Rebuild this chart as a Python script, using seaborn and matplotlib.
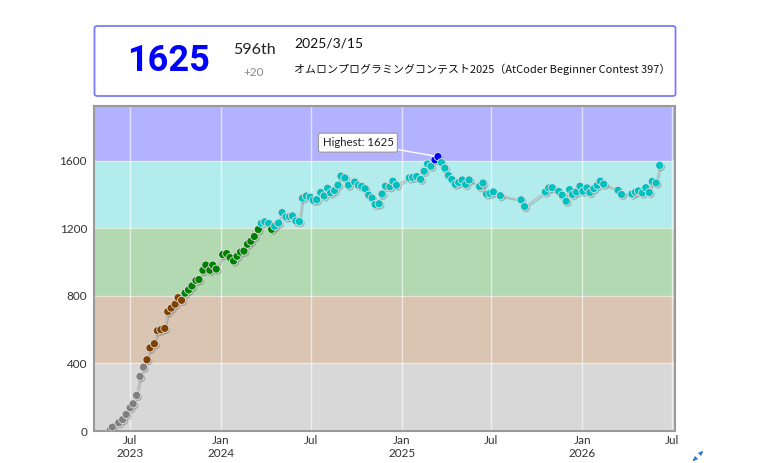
import matplotlib
matplotlib.use("Agg")
import matplotlib.pyplot as plt
import matplotlib.patheffects as pe
from matplotlib.patches import FancyBboxPatch, FancyArrowPatch
import seaborn as sns
import pandas as pd

# ---------------- data ----------------
dates = [
    "2023-05-23", "2023-05-27", "2023-06-09", "2023-06-17", "2023-06-24", "2023-07-02", "2023-07-08", "2023-07-15", "2023-07-22", "2023-07-29",
    "2023-08-05", "2023-08-11", "2023-08-20", "2023-08-26", "2023-09-02", "2023-09-10", "2023-09-16", "2023-09-23", "2023-10-01", "2023-10-07", "2023-10-14",
    "2023-10-21", "2023-10-28", "2023-11-04", "2023-11-12", "2023-11-18", "2023-11-26", "2023-12-02", "2023-12-10", "2023-12-16", "2023-12-23",
    "2024-01-05", "2024-01-13", "2024-01-20", "2024-01-27", "2024-02-03", "2024-02-10", "2024-02-17", "2024-02-24", "2024-03-02", "2024-03-09", "2024-03-17",
    "2024-03-23", "2024-03-30", "2024-04-07", "2024-04-13", "2024-04-19", "2024-04-27", "2024-05-04", "2024-05-12", "2024-05-19", "2024-05-25", "2024-06-01", "2024-06-08",
    "2024-06-14", "2024-06-22", "2024-06-30", "2024-07-06", "2024-07-13", "2024-07-21", "2024-07-28", "2024-08-04", "2024-08-10", "2024-08-18", "2024-08-25", "2024-08-31",
    "2024-09-08", "2024-09-15", "2024-09-28", "2024-10-05", "2024-10-12", "2024-10-19", "2024-10-26", "2024-11-02", "2024-11-08", "2024-11-16", "2024-11-22", "2024-11-29",
    "2024-12-08", "2024-12-14", "2024-12-21",
    "2025-01-16", "2025-01-23", "2025-01-31", "2025-02-08", "2025-02-15", "2025-02-22", "2025-03-01", "2025-03-09", "2025-03-15",
    "2025-03-22", "2025-03-29", "2025-04-05", "2025-04-12", "2025-04-19", "2025-04-26", "2025-05-03", "2025-05-10", "2025-05-17",
    "2025-06-07", "2025-06-14", "2025-06-21", "2025-06-28", "2025-07-05", "2025-07-19", "2025-08-30", "2025-09-06",
    "2025-10-18", "2025-10-25", "2025-11-01", "2025-11-14", "2025-11-21", "2025-11-29", "2025-12-06", "2025-12-12", "2025-12-20", "2025-12-27",
    "2026-01-02", "2026-01-10", "2026-01-16", "2026-01-24", "2026-01-31", "2026-02-06", "2026-02-13",
    "2026-03-14", "2026-03-21", "2026-04-11", "2026-04-18", "2026-04-24", "2026-05-02", "2026-05-09", "2026-05-16", "2026-05-22", "2026-05-30", "2026-06-06",
]
ratings = [
    7, 23, 49, 68, 98, 138, 161, 211, 323, 378,
    422, 492, 517, 594, 600, 608, 707, 728, 751, 790, 774,
    817, 835, 859, 892, 897, 952, 983, 952, 983, 959,
    1045, 1051, 1027, 1007, 1035, 1060, 1066, 1106, 1124, 1152, 1193,
    1230, 1239, 1230, 1194, 1213, 1232, 1294, 1268, 1270, 1274, 1244, 1241,
    1379, 1392, 1385, 1367, 1370, 1413, 1392, 1438, 1410, 1424, 1456, 1510,
    1499, 1456, 1475, 1456, 1449, 1435, 1397, 1380, 1342, 1346, 1404, 1450,
    1447, 1480, 1456,
    1499, 1502, 1507, 1491, 1539, 1582, 1568, 1606, 1625,
    1590, 1557, 1514, 1490, 1461, 1472, 1487, 1460, 1487,
    1448, 1469, 1404, 1407, 1416, 1394, 1369, 1329,
    1416, 1440, 1441, 1419, 1397, 1361, 1430, 1401, 1416, 1450,
    1420, 1440, 1413, 1436, 1455, 1480, 1462,
    1426, 1401, 1404, 1415, 1422, 1410, 1441, 1413, 1478, 1469, 1573,
]

tier_bounds = [0, 400, 800, 1200, 1600, 1925]
tier_names = ["gray", "brown", "green", "cyan", "blue"]
band_colors = ["#D8D8D8", "#D9C5B2", "#B2D9B2", "#B2ECEC", "#B2B2FF"]
point_colors = ["#808080", "#804000", "#008000", "#00C0C0", "#0000FF"]

yticks = [0, 400, 800, 1200, 1600]
xtick_dates = ["2023-07-01", "2024-01-01", "2024-07-01", "2025-01-01", "2025-07-01", "2026-01-01", "2026-07-01"]
xtick_labels = ["Jul\n2023", "Jan\n2024", "Jul", "Jan\n2025", "Jul", "Jan\n2026", "Jul"]

header_rating = "1625"
header_rank = "596th"
header_delta = "+20"
header_date = "2025/3/15"
header_contest = "オムロンプログラミングコンテスト2025（AtCoder Beginner Contest 397）"
highest_label = "Highest: 1625"


def tier_of(r):
    for i in range(len(tier_names)):
        if r < tier_bounds[i + 1]:
            return tier_names[i]
    return tier_names[-1]


df = pd.DataFrame({"date": pd.to_datetime(dates), "rating": ratings})
df["tier"] = [tier_of(r) for r in ratings]

# ---------------- figure ----------------
sns.set_theme(style="white")
plt.rcParams["font.family"] = ["Lato", "DejaVu Sans"]

fig = plt.figure(figsize=(7.58, 4.63), dpi=100)
ax = fig.add_axes([94 / 758, 1 - 431 / 463, 581 / 758, 325 / 463])

xmin = pd.Timestamp("2023-04-20")
xmax = pd.Timestamp("2026-07-07")

# rating bands
for i in range(len(tier_names)):
    ax.axhspan(tier_bounds[i], tier_bounds[i + 1], color=band_colors[i], lw=0, zorder=0)
for b in tier_bounds[1:-1]:
    ax.axhline(b, color="white", lw=1, alpha=0.5, zorder=1)
# vertical gridlines
for d in xtick_dates:
    ax.axvline(pd.Timestamp(d), color="white", lw=1, alpha=0.6, zorder=1)

shadow = [pe.SimpleLineShadow(offset=(1, -1.2), alpha=0.2), pe.Normal()]
sns.lineplot(data=df, x="date", y="rating", ax=ax, color="#BDBDBD", lw=1.0,
             zorder=2, path_effects=shadow, estimator=None, sort=False)
palette = dict(zip(tier_names, point_colors))
sns.scatterplot(data=df, x="date", y="rating", hue="tier", palette=palette,
                ax=ax, s=34, edgecolor="#E0E0E0", linewidth=0.6, zorder=3,
                legend=False)
for coll in ax.collections:
    coll.set_path_effects([pe.SimplePatchShadow(offset=(1, -1.2), shadow_rgbFace=(0.2, 0.2, 0.2),
                                                alpha=0.25), pe.Normal()])

ax.set_xlim(xmin, xmax)
ax.set_ylim(0, 1925)
ax.set_yticks(yticks)
ax.set_yticklabels([str(t) for t in yticks])
ax.set_xticks([pd.Timestamp(d) for d in xtick_dates])
ax.set_xticklabels(xtick_labels)
ax.tick_params(axis="both", length=0, labelsize=8.5, labelcolor="#333333", pad=5)
ax.tick_params(axis="x", pad=3)
ax.set_xlabel("")
ax.set_ylabel("")
for sp in ax.spines.values():
    sp.set_visible(True)
    sp.set_color("#999999")
    sp.set_linewidth(1.5)

# highest tooltip
imax = ratings.index(max(ratings))
ax.annotate(highest_label, xy=(df["date"][imax], ratings[imax]),
            xytext=(-80, 14), textcoords="offset pixels", ha="center", va="center",
            fontsize=8.2, color="#222222",
            bbox=dict(boxstyle="round,pad=0.35,rounding_size=0.15", fc="white", ec="#999999", lw=0.8),
            arrowprops=dict(arrowstyle="-", color="white", lw=1.0, shrinkA=0, shrinkB=3),
            zorder=5)

# ---------------- header ----------------
box = FancyBboxPatch((94.5 / 758, 1 - 96 / 463), 581 / 758, 70 / 463,
                     boxstyle="round,pad=0,rounding_size=0.004", transform=fig.transFigure,
                     fc="white", ec="#7B7BFF", lw=1.3)
fig.patches.append(box)
fig.text(169 / 758, 1 - 61 / 463, header_rating, ha="center", va="center",
         fontsize=26, fontweight="bold", color="#0000FF",
         family=["Roboto", "DejaVu Sans"])
fig.text(254 / 758, 1 - 50 / 463, header_rank, ha="center", va="center",
         fontsize=11.5, color="#222222")
fig.text(254 / 758, 1 - 73 / 463, header_delta, ha="center", va="center",
         fontsize=8.5, color="#888888")
fig.text(294 / 758, 1 - 44 / 463, header_date, ha="left", va="center",
         fontsize=10, color="#111111")
ct = fig.text(294 / 758, 1 - 69 / 463, header_contest, ha="left", va="center",
              fontsize=12, color="#111111",
              family=["Noto Sans CJK JP", "DejaVu Sans"])
fig.canvas.draw()
r = fig.canvas.get_renderer()
fs = 12.0
while ct.get_window_extent(r).width > 378 and fs > 6:
    fs -= 0.1
    ct.set_fontsize(fs)

# expand icon (no installed font has the ⤢ glyph)
for (x0, y0, x1, y1) in [(696, 458, 693, 461), (700, 454, 703, 451)]:
    fig.patches.append(FancyArrowPatch((x0 / 758, 1 - y0 / 463), (x1 / 758, 1 - y1 / 463),
                                       transform=fig.transFigure, arrowstyle="-|>",
                                       mutation_scale=5, color="#3377CC", lw=1))

fig.savefig("out.png", dpi=100)
